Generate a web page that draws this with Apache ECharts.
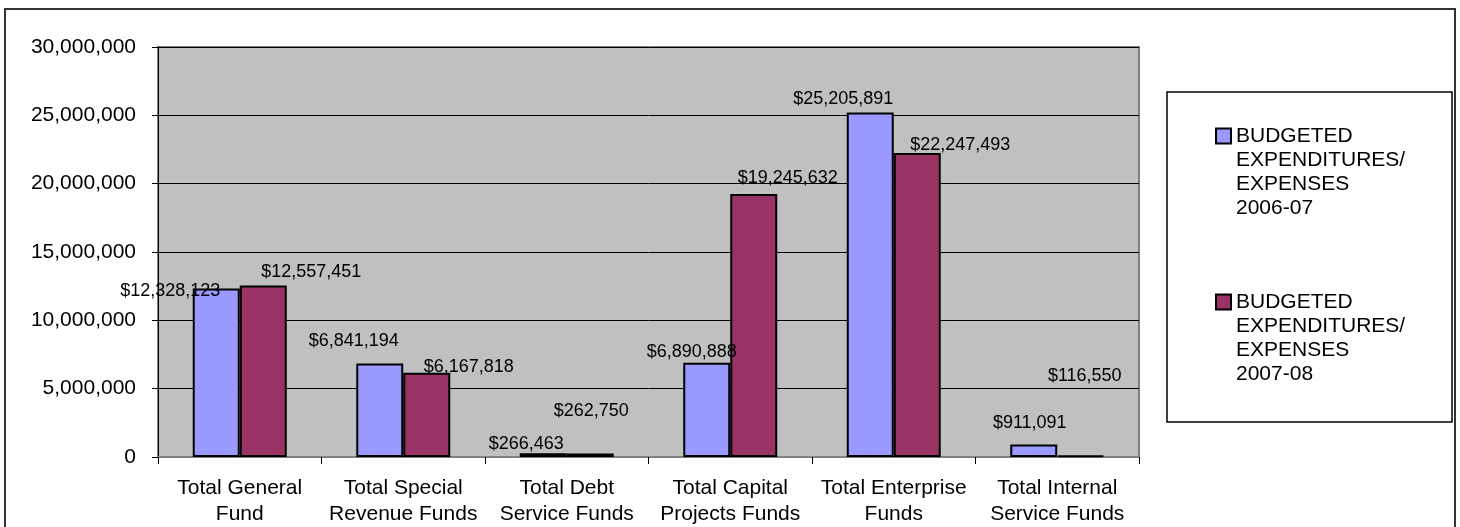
<!DOCTYPE html>
<html>
<head>
<meta charset="utf-8">
<script src="https://cdn.jsdelivr.net/npm/echarts@6/dist/echarts.min.js"></script>
<style>
html,body{margin:0;padding:0;background:#fff;}
#chart{width:1460px;height:527px;}
</style>
</head>
<body>
<div id="chart"></div>
<script>
const categories = [
  'Total General\nFund',
  'Total Special\nRevenue Funds',
  'Total Debt\nService Funds',
  'Total Capital\nProjects Funds',
  'Total Enterprise\nFunds',
  'Total Internal\nService Funds'
];
const seriesNames = [
  'BUDGETED\nEXPENDITURES/\nEXPENSES\n2006-07',
  'BUDGETED\nEXPENDITURES/\nEXPENSES\n2007-08'
];
const budget0607 = [12328123, 6841194, 266463, 6890888, 25205891, 911091];
const budget0708 = [12557451, 6167818, 262750, 19245632, 22247493, 116550];
const yTicks = { min: 0, max: 30000000, interval: 5000000 };

// label nudges (dx, dy) relative to the top-centre of each bar, mimicking the original placement
const nudges0607 = [[-46, 3], [-26, -22], [-17, -9], [-15, -11], [-27, -13], [-4, -22]];
const nudges0708 = [[48, -13], [42, -6], [1, -42], [34, -16], [43, -8], [4, -79]];

const FONT = '"Liberation Sans", Arial, sans-serif';
const fmtNum = v => String(v).replace(/\B(?=(\d{3})+(?!\d))/g, ',');

function buildData(values, nudges) {
  return values.map((v, i) => ({ value: v, label: { offset: nudges[i] } }));
}

const labelBase = {
  show: true,
  position: 'top',
  distance: 0,
  verticalAlign: 'middle',
  align: 'center',
  fontSize: 18,
  fontFamily: FONT,
  color: '#000',
  formatter: p => '$' + fmtNum(p.value)
};

const chart = echarts.init(document.getElementById('chart'), null, { renderer: 'canvas' });
chart.setOption({
  backgroundColor: '#fff',
  animation: false,
  textStyle: { fontFamily: FONT },
  graphic: [
    { type: 'rect', z: -10, shape: { x: 5, y: 9, width: 1450, height: 540 },
      style: { fill: '#fff', stroke: '#333', lineWidth: 2 } },
    { type: 'rect', z: -5, shape: { x: 1167, y: 92, width: 285, height: 330 },
      style: { fill: '#fff', stroke: '#000', lineWidth: 1.5 } }
  ],
  grid: {
    left: 158, top: 47, right: 321, bottom: 70,
    show: true, backgroundColor: '#C0C0C0', borderColor: '#808080', borderWidth: 2
  },
  legend: {
    orient: 'vertical',
    left: 1215, top: 52,
    padding: 0,
    itemWidth: 15, itemHeight: 15, itemGap: -2,
    icon: 'rect',
    selectedMode: false,
    // leading blank lines keep the icon level with the first text line
    formatter: name => '\n\n\n' + name,
    textStyle: { fontSize: 21, lineHeight: 24, color: '#000', fontFamily: FONT },
    data: seriesNames
  },
  xAxis: {
    type: 'category',
    data: categories,
    axisLine: { show: true, lineStyle: { color: '#808080', width: 2 } },
    axisTick: { show: true, alignWithLabel: false, length: 7, lineStyle: { color: '#000', width: 1 } },
    axisLabel: { fontSize: 21, lineHeight: 26, color: '#000', margin: 18, interval: 0, fontFamily: FONT },
    splitLine: { show: false }
  },
  yAxis: {
    type: 'value',
    min: yTicks.min, max: yTicks.max, interval: yTicks.interval,
    axisLine: { show: true, lineStyle: { color: '#000', width: 1 } },
    axisTick: { show: true, length: 6, lineStyle: { color: '#000' } },
    axisLabel: { fontSize: 21, color: '#000', margin: 22, fontFamily: FONT, formatter: v => fmtNum(v) },
    splitLine: { show: true, lineStyle: { color: '#000', width: 1 } }
  },
  series: [
    {
      name: seriesNames[0], type: 'bar', barWidth: 47, barGap: '0%',
      itemStyle: { color: '#9999FF', borderColor: '#000', borderWidth: 2 },
      label: labelBase,
      data: buildData(budget0607, nudges0607)
    },
    {
      name: seriesNames[1], type: 'bar', barWidth: 47, barGap: '0%',
      itemStyle: { color: '#993366', borderColor: '#000', borderWidth: 2 },
      label: labelBase,
      data: buildData(budget0708, nudges0708)
    }
  ]
});
</script>
</body>
</html>
